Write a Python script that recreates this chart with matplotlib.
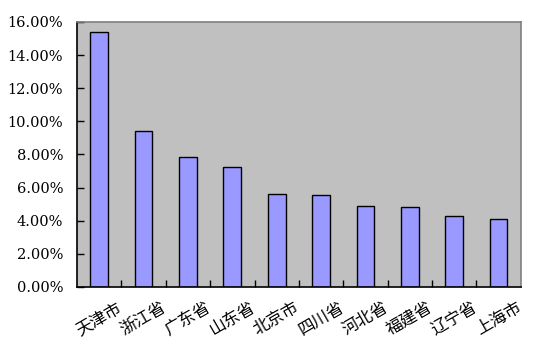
import matplotlib.pyplot as plt
from matplotlib.ticker import FuncFormatter

plt.rcParams['font.family'] = ['DejaVu Serif', 'Noto Sans CJK SC']

provinces = ['天津市', '浙江省', '广东省', '山东省', '北京市', '四川省', '河北省', '福建省', '辽宁省', '上海市']
shares = [15.38, 9.40, 7.83, 7.23, 5.60, 5.54, 4.87, 4.81, 4.27, 4.09]
y_ticks = [0, 2, 4, 6, 8, 10, 12, 14, 16]

fig = plt.figure(figsize=(5.54, 3.60), dpi=100)
ax = fig.add_axes([0.139, 0.203, 0.801, 0.736])
ax.set_facecolor('#c0c0c0')

x = range(len(provinces))
ax.bar(x, shares, width=0.4, color='#9999ff', edgecolor='black', linewidth=1.0, zorder=2)

ax.set_xlim(-0.5, len(provinces) - 0.5)
ax.set_ylim(0, 16)
ax.set_yticks(y_ticks)
ax.yaxis.set_major_formatter(FuncFormatter(lambda v, p: '%.2f%%' % v))
ax.tick_params(axis='y', direction='in', length=5, width=1, labelsize=10.5, pad=10)

# category boundaries as ticks, labels in the middle
ax.set_xticks([i + 0.5 for i in range(len(provinces) - 1)])
ax.set_xticklabels([])
ax.tick_params(axis='x', direction='in', length=5, width=1)
for i, name in enumerate(provinces):
    ax.annotate(name, xy=(i, 0), xycoords=('data', 'axes fraction'),
                xytext=(0, -23), textcoords='offset points',
                ha='center', va='center', rotation=30, fontsize=12,
                family=['Noto Sans CJK SC'])

for side in ['left', 'bottom']:
    ax.spines[side].set_color('black')
    ax.spines[side].set_linewidth(1.2)
for side in ['top', 'right']:
    ax.spines[side].set_color('#808080')
    ax.spines[side].set_linewidth(1.2)

fig.savefig('out.png', dpi=100)
